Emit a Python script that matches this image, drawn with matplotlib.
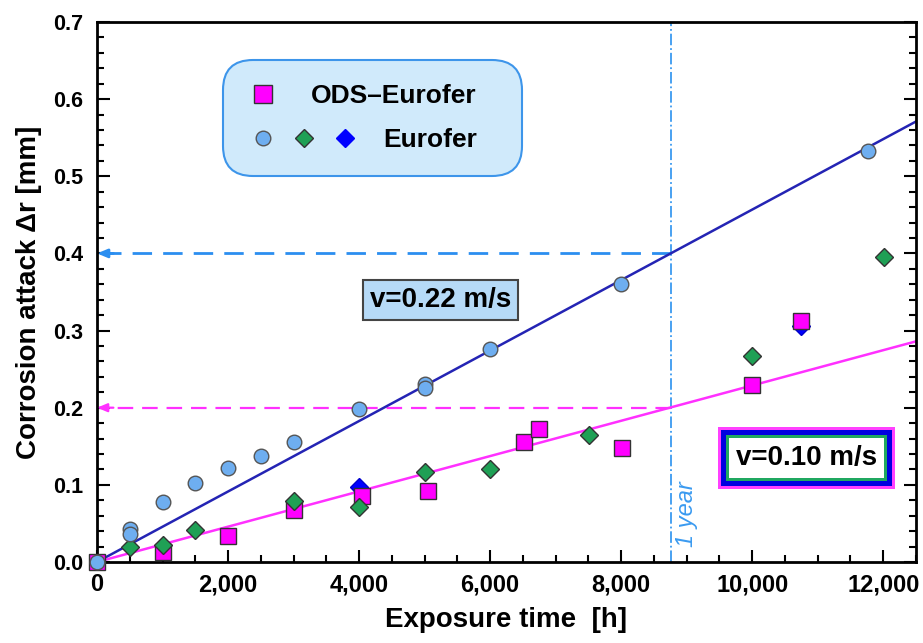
import matplotlib
matplotlib.use("Agg")
import matplotlib.pyplot as plt
from matplotlib.lines import Line2D
from matplotlib.legend_handler import HandlerTuple
from matplotlib.offsetbox import DrawingArea
from matplotlib.ticker import MultipleLocator, StrMethodFormatter

plt.rcParams['font.family'] = ['Liberation Sans', 'DejaVu Sans']
plt.rcParams['font.weight'] = 'bold'

# data (time in h, corrosion attack in mm)
eurofer_circ_t = [0, 500, 500, 1000, 1500, 2000, 2500, 3000, 4000, 5000, 5000, 6000, 8000, 11770]
eurofer_circ_dr = [0.0, 0.043, 0.036, 0.078, 0.103, 0.122, 0.137, 0.156, 0.198, 0.231, 0.225, 0.276, 0.360, 0.533]

eurofer_green_t = [500, 1000, 1500, 3000, 4000, 5000, 6000, 7510, 10000, 12010]
eurofer_green_dr = [0.019, 0.022, 0.042, 0.079, 0.071, 0.116, 0.121, 0.165, 0.267, 0.396]

eurofer_blue_t = [4000, 10750]
eurofer_blue_dr = [0.097, 0.306]

ods_t = [0, 1000, 2000, 3000, 4040, 5050, 6520, 6740, 8010, 10000, 10750]
ods_dr = [0.0, 0.013, 0.034, 0.068, 0.085, 0.092, 0.155, 0.173, 0.148, 0.230, 0.312]

fit_t = [0, 12500]
fit_fast = [0.0, 0.571]   # v=0.22 m/s
fit_slow = [0.0, 0.286]   # v=0.10 m/s

one_year = 8760
fast_1y = 0.4
slow_1y = 0.2

fig = plt.figure(figsize=(9.23, 6.43), dpi=100)
ax = fig.add_axes([0.1051, 0.126, 0.8873, 0.8398])

# fit lines
ax.plot(fit_t, fit_fast, color='#2424b4', lw=1.8, zorder=2)
ax.plot(fit_t, fit_slow, color='#ff30ff', lw=1.8, zorder=2)

# one year marker + dashed read-offs
ax.axvline(one_year, color='#3a9af0', lw=1.3, ls='-.', zorder=1)
ax.plot([one_year, 0], [fast_1y, fast_1y], color='#2b8ef0', lw=2, dashes=(7, 4), zorder=1)
ax.plot([one_year, 0], [slow_1y, slow_1y], color='#ff30ff', lw=1.6, dashes=(7, 4), zorder=1)
ax.annotate('', xy=(0, fast_1y), xytext=(250, fast_1y),
            arrowprops=dict(arrowstyle='-|>,head_length=0.6,head_width=0.25',
                            color='#2b8ef0', lw=2, shrinkA=0, shrinkB=0))
ax.annotate('', xy=(0, slow_1y), xytext=(250, slow_1y),
            arrowprops=dict(arrowstyle='-|>,head_length=0.6,head_width=0.25',
                            color='#ff30ff', lw=1.6, shrinkA=0, shrinkB=0))
ax.text(one_year + 230, 0.02, '1 year', rotation=90, fontsize=17, style='italic',
        weight='normal', color='#3a9af0', ha='center', va='bottom')

# data points
ax.plot(eurofer_blue_t, eurofer_blue_dr, ls='none', marker='D', ms=9, mfc='#0000ff',
        mec='#0000cc', mew=1, zorder=3, clip_on=False)
ax.plot(ods_t, ods_dr, ls='none', marker='s', ms=11.5, mfc='#ff00ff',
        mec='#333333', mew=1, zorder=4, clip_on=False)
ax.plot(eurofer_green_t, eurofer_green_dr, ls='none', marker='D', ms=9, mfc='#1fa055',
        mec='#333333', mew=1, zorder=5, clip_on=False)
ax.plot(eurofer_circ_t, eurofer_circ_dr, ls='none', marker='o', ms=10.5, mfc='#6eaef0',
        mec='#555555', mew=1, zorder=6, clip_on=False)

# velocity labels
ax.text(5240, 0.340, 'v=0.22 m/s', fontsize=20, ha='center', va='center', zorder=7,
        bbox=dict(boxstyle='square,pad=0.25', fc='#b6daf7', ec='#444444', lw=1.5))
for i, (pad, fc) in enumerate([(0.65, '#ff40ff'), (0.54, '#0000e0'), (0.36, '#20a860'), (0.25, 'white')]):
    ax.text(10830, 0.135, 'v=0.10 m/s', fontsize=20, ha='center', va='center',
            color='black' if fc == 'white' else 'none', zorder=7 + i,
            bbox=dict(boxstyle=f'square,pad={pad}', fc=fc, ec='none'))

# legend
blank = Line2D([], [], ls='none')
h_ods = Line2D([], [], ls='none', marker='s', ms=13, mfc='#ff00ff', mec='#333333', mew=1)
h_circ = Line2D([], [], ls='none', marker='o', ms=10.5, mfc='#6eaef0', mec='#555555', mew=1)
h_green = Line2D([], [], ls='none', marker='D', ms=9, mfc='#1fa055', mec='#333333', mew=1)
h_blue = Line2D([], [], ls='none', marker='D', ms=9, mfc='#0000ff', mec='#0000ff', mew=1)
leg = ax.legend([(h_ods, blank, blank), (h_circ, h_green, h_blue)], ['ODS–Eurofer', 'Eurofer'],
                handler_map={tuple: HandlerTuple(ndivide=None, pad=0.33)},
                loc='upper left', bbox_to_anchor=(0.1538, 0.9296), borderaxespad=0,
                fontsize=19, handlelength=4.33, handletextpad=0.83, borderpad=0.9,
                labelspacing=0.78, fancybox=True, framealpha=1,
                facecolor='#d0eafb', edgecolor='#3d95ea')
leg.get_frame().set_boxstyle('round', pad=0, rounding_size=1.15)
leg.get_frame().set_linewidth(1.5)

# axes styling
ax.set_xlim(0, 12500)
ax.set_ylim(0, 0.7)
ax.xaxis.set_major_locator(MultipleLocator(2000))
ax.xaxis.set_minor_locator(MultipleLocator(500))
ax.yaxis.set_major_locator(MultipleLocator(0.1))
ax.yaxis.set_minor_locator(MultipleLocator(0.02))
ax.xaxis.set_major_formatter(StrMethodFormatter('{x:,.0f}'))
ax.yaxis.set_major_formatter(StrMethodFormatter('{x:.1f}'))
ax.tick_params(axis='both', which='both', direction='in', width=1.5)
ax.tick_params(axis='y', which='both', left=True, right=True, pad=10, labelsize=15.5)
ax.tick_params(axis='x', which='both', top=False, pad=8, labelsize=17)
ax.tick_params(which='major', length=9)
ax.tick_params(which='minor', length=5)
for s in ax.spines.values():
    s.set_linewidth(2)

ax.set_xlabel('Exposure time  [h]', fontsize=20, weight='bold', labelpad=8)
ax.set_ylabel('Corrosion attack Δr [mm]', fontsize=20, weight='bold', labelpad=8)

# right-align legend labels: pull the ODS label back into the marker area,
# and give the Eurofer row a bit of trailing room
fig.canvas.draw()
r = fig.canvas.get_renderer()
w = [t.get_window_extent(r).width for t in leg.get_texts()]
rows = leg._legend_handle_box.get_children()[0].get_children()
sep1 = rows[1].sep
rows[0].sep = sep1 - (w[0] - w[1]) * 72 / fig.dpi
rows[1].get_children().append(DrawingArea(0, 0))

fig.savefig('out.png', dpi=100)
